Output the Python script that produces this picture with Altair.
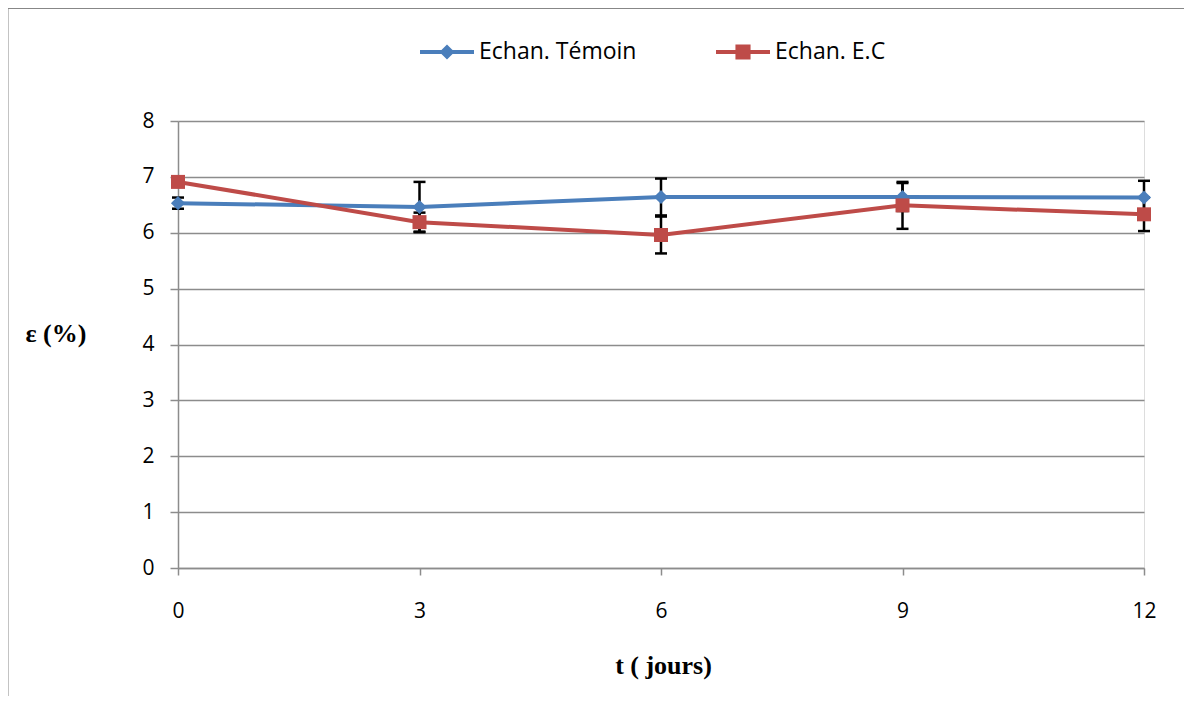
import altair as alt
import pandas as pd

# ---- data ----
days = [0, 3, 6, 9, 12]
series_names = ["Echan. Témoin", "Echan. E.C"]
temoin = [6.53, 6.46, 6.64, 6.64, 6.63]
temoin_err = [0.10, 0.45, 0.33, 0.25, 0.30]
ec = [6.91, 6.19, 5.96, 6.49, 6.33]
ec_err = [0.03, 0.17, 0.33, 0.42, 0.30]
y_ticks = [0, 1, 2, 3, 4, 5, 6, 7, 8]

rows = []
for name, vals, errs in [(series_names[0], temoin, temoin_err), (series_names[1], ec, ec_err)]:
    for i, (t, v, e) in enumerate(zip(days, vals, errs)):
        rows.append({"t": t, "series": name, "value": v, "lo": v - e, "hi": v + e,
                     "order": i})
df = pd.DataFrame(rows)

BLUE = "#4A7EBB"
RED = "#BE4B48"
GRID = "#8c8c8c"

# legend symbols: line segment + marker (unit box -1..1)
P1 = "M-1,-0.075L1,-0.075L1,0.075L-1,0.075Z M0,-0.28L0.28,0L0,0.28L-0.28,0Z"
P2 = "M-1,-0.075L1,-0.075L1,0.075L-1,0.075Z M-0.28,-0.28L0.28,-0.28L0.28,0.28L-0.28,0.28Z"

x = alt.X("t:Q", scale=alt.Scale(domain=[0, 12], nice=False),
          axis=alt.Axis(values=days, format="d", grid=False, domainColor=GRID,
                        domainWidth=1.5, tickColor=GRID, tickWidth=1.5, tickSize=7,
                        labelFlush=False,
                        labelFont="Open Sans", labelFontSize=21, labelColor="black",
                        labelPadding=25, title="t ( jours)", titleFont="Liberation Serif",
                        titleFontSize=26, titleFontWeight="bold", titleColor="black",
                        titleX=485, titleY=97, titleAlign="center",
                        titleBaseline="middle"))
y_axis = alt.Axis(values=y_ticks, format="d", grid=True, gridColor=GRID, gridWidth=1.5,
                  domainColor=GRID, domainWidth=1.5, tickColor=GRID, tickWidth=1.5,
                  tickSize=8, labelFont="Open Sans", labelFontSize=21, labelColor="black",
                  labelPadding=16, title="ε (%)", titleFont="Liberation Serif",
                  titleFontSize=26, titleFontWeight="bold", titleColor="black",
                  titleAngle=0, titleX=-153, titleY=212, titleAlign="left",
                  titleBaseline="middle")
y = alt.Y("value:Q", scale=alt.Scale(domain=[0, 8], nice=False), axis=y_axis)

color = alt.Color("series:N", scale=alt.Scale(domain=series_names, range=[BLUE, RED]),
                  legend=None)

base = alt.Chart(df)

stems = base.mark_rule(color="black", strokeWidth=2.5).encode(
    x="t:Q", y="lo:Q", y2="hi:Q")
caps_lo = base.mark_point(shape="stroke", size=144, color="black", strokeWidth=2.5,
                          opacity=1).encode(x="t:Q", y="lo:Q")
caps_hi = base.mark_point(shape="stroke", size=144, color="black", strokeWidth=2.5,
                          opacity=1).encode(x="t:Q", y="hi:Q")

lines = base.mark_line(strokeWidth=4).encode(x=x, y=y, color=color, order="order:Q")
points = base.mark_point(filled=True, opacity=1).encode(
    x="t:Q", y="value:Q", color=color,
    shape=alt.Shape("series:N", scale=alt.Scale(domain=series_names,
                                                range=["diamond", "square"]),
                    legend=None),
    size=alt.Size("series:N", scale=alt.Scale(domain=series_names, range=[200, 196]),
                  legend=None),
)


def legend_layer(name, path, col, lx):
    return alt.Chart(alt.Data(values=[])).mark_point(
        filled=True, color=col, opacity=1, strokeWidth=0
    ).encode(
        x=alt.X("t:Q"), y=alt.Y("value:Q"),
        shape=alt.Shape("series:N", scale=alt.Scale(domain=[name], range=[path]),
                        legend=alt.Legend(orient="none", legendX=lx, legendY=-96,
                                          title=None, symbolSize=2916,
                                          symbolStrokeWidth=0, symbolFillColor=col,
                                          labelFont="Open Sans", labelFontSize=23,
                                          labelColor="black", labelOffset=5,
                                          padding=0)),
    )


leg1 = legend_layer(series_names[0], P1, BLUE, 242)
leg2 = legend_layer(series_names[1], P2, RED, 538)

frame_df = pd.DataFrame({"k": [0]})
frame_left = alt.Chart(frame_df).mark_rule(color="#878787", strokeWidth=2).encode(
    x=alt.value(-170.5), y=alt.value(-113), y2=alt.value(720))
frame_top = alt.Chart(frame_df).mark_rule(color="#878787", strokeWidth=2).encode(
    x=alt.value(-170.5), x2=alt.value(1100), y=alt.value(-113))

chart = alt.layer(stems, caps_lo, caps_hi, lines, points, leg1, leg2,
                  frame_left, frame_top).resolve_scale(shape="independent").properties(
    width=966, height=447,
    autosize=alt.AutoSizeParams(type="none"),
    padding={"left": 170, "top": 113, "right": 40, "bottom": 128},
).configure_view(stroke=None).configure(background="white")

chart.save("out.html", embed_options={"renderer": "svg", "actions": False})
